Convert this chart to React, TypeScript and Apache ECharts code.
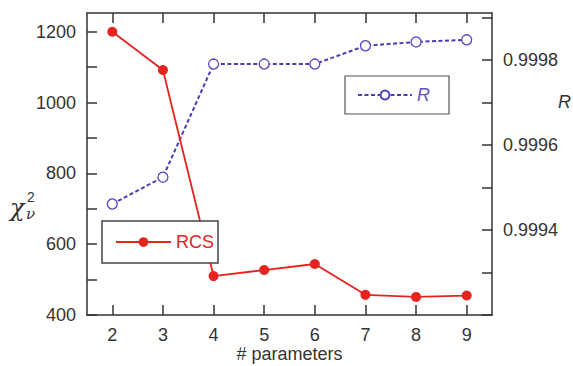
import React, { useEffect, useRef } from "react";
import * as echarts from "echarts";

const categories = ["2", "3", "4", "5", "6", "7", "8", "9"];
const rcsValues = [1200, 1092, 510, 527, 544, 457, 451, 455];
const rValues = [0.999461, 0.999524, 0.99979, 0.99979, 0.99979, 0.999833, 0.999842, 0.999847];

const RED = "#e5231f";
const PURPLE = "#4a3db3";
const INK = "#333";

export default function App() {
  const ref = useRef<HTMLDivElement>(null);
  useEffect(() => {
    const chart = echarts.init(ref.current!, undefined, { renderer: "svg" });
    const font = "Liberation Sans, Arial, sans-serif";
    const tick = { show: true, inside: true, length: 10, lineStyle: { color: INK, width: 1.5 } };
    chart.setOption({
      animation: false,
      backgroundColor: "#fff",
      textStyle: { fontFamily: font },
      grid: { left: 87, right: 81, top: 13, bottom: 51, containLabel: false, outerBoundsMode: "none" },
      xAxis: [
        {
          type: "category",
          data: categories,
          position: "bottom",
          boundaryGap: true,
          name: "# parameters",
          nameLocation: "middle",
          nameGap: 30,
          nameMoveOverlap: false,
          nameTextStyle: { fontSize: 18, color: INK, fontFamily: font, lineHeight: 18, verticalAlign: "top" },
          axisLine: { show: true, lineStyle: { color: INK, width: 1.5 } },
          axisTick: { ...tick, alignWithLabel: true },
          axisLabel: { fontSize: 18, lineHeight: 16, color: INK, margin: 12, fontFamily: font },
          splitLine: { show: false },
        },
        {
          type: "category",
          data: categories,
          position: "top",
          boundaryGap: true,
          axisLine: { show: true, lineStyle: { color: INK, width: 1.5 } },
          axisTick: { ...tick, alignWithLabel: true },
          axisLabel: { show: false },
          splitLine: { show: false },
        },
      ],
      yAxis: [
        {
          type: "value",
          position: "left",
          min: 400,
          max: 1253,
          interval: 100,
          axisLine: { show: true, lineStyle: { color: INK, width: 1.5 } },
          axisTick: tick,
          axisLabel: {
            fontSize: 18,
            color: INK,
            margin: 11,
            fontFamily: font,
            showMaxLabel: false,
            formatter: (v: number) => (Math.round(v) % 200 === 0 ? String(Math.round(v)) : ""),
          },
          splitLine: { show: false },
        },
        {
          type: "value",
          position: "right",
          min: 0.9992,
          max: 0.99991,
          interval: 0.0001,
          axisLine: { show: true, lineStyle: { color: INK, width: 1.5 } },
          axisTick: tick,
          axisLabel: {
            fontSize: 18,
            color: INK,
            margin: 11,
            fontFamily: font,
            showMaxLabel: false,
            formatter: (v: number) => {
              const k = Math.round(v * 10000);
              return k % 2 === 0 && k >= 9994 && k <= 9998 ? (k / 10000).toFixed(4) : "";
            },
          },
          splitLine: { show: false },
        },
      ],
      legend: [
        {
          data: ["RCS"],
          left: 102,
          top: 221,
          padding: [12, 4, 12, 13],
          itemWidth: 55,
          itemHeight: 12,
          backgroundColor: "#fff",
          borderColor: "#444",
          borderWidth: 1.5,
          textStyle: { color: RED, fontSize: 18, fontFamily: font },
        },
        {
          data: ["R"],
          left: 345,
          top: 76,
          padding: [10, 19, 10, 12],
          itemWidth: 54,
          itemHeight: 11,
          backgroundColor: "#fff",
          borderColor: "#555",
          borderWidth: 1.2,
          textStyle: { color: "#6a4fc0", fontSize: 18, fontStyle: "italic", fontFamily: font },
        },
      ],
      graphic: [
        { type: "text", left: 10, top: 196, style: { text: "χ", font: "italic 24px 'DejaVu Serif', serif", fill: INK } },
        { type: "text", left: 27, top: 190, style: { text: "2", font: "14px " + font, fill: INK } },
        { type: "text", left: 26, top: 206, style: { text: "ν", font: "italic 15px 'DejaVu Serif', serif", fill: INK } },
        { type: "text", left: 558, top: 93, style: { text: "R", font: "italic 18px " + font, fill: INK } },
      ],
      series: [
        {
          name: "RCS",
          type: "line",
          xAxisIndex: 0,
          yAxisIndex: 0,
          data: rcsValues,
          symbol: "circle",
          symbolSize: 10,
          lineStyle: { color: RED, width: 1.8 },
          itemStyle: { color: RED },
          z: 3,
        },
        {
          name: "R",
          type: "line",
          xAxisIndex: 0,
          yAxisIndex: 1,
          data: rValues,
          symbol: "circle",
          symbolSize: 10,
          lineStyle: { color: PURPLE, width: 2, type: [4, 2.5] },
          itemStyle: { color: "#fff", borderColor: "#5a45c0", borderWidth: 1.3 },
          z: 2,
        },
      ],
    });
    return () => chart.dispose();
  }, []);
  return <div ref={ref} style={{ width: 573, height: 366, position: "absolute", left: 0, top: 0 }} />;
}
